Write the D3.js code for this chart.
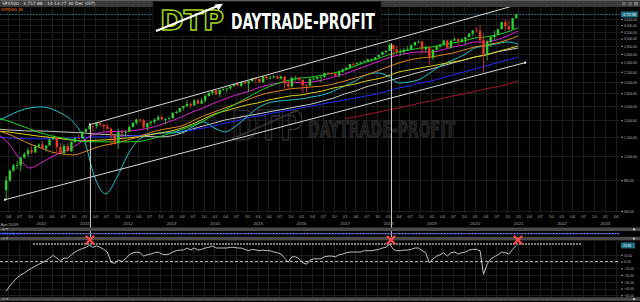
<!DOCTYPE html>
<html>
<head>
<meta charset="utf-8">
<script src="https://cdnjs.cloudflare.com/ajax/libs/d3/7.8.5/d3.min.js"></script>
<style>
  html, body { margin: 0; padding: 0; background: #000; overflow: hidden; }
  svg { display: block; }
  text { font-family: 'DejaVu Sans', sans-serif; }
</style>
</head>
<body>
<div id="chart"></div>
<script>
// SPX500 weekly chart, Apr 2009 - Dec 2020, with MAs, channel and % indicator

// monthly candles (Mar 2009 .. Dec 2020), open = previous close
const firstMonth = new Date(2009, 2, 1);
const firstOpen = 729.57;
const closes = [
  797.87, 872.81, 919.14, 919.32, 987.48, 1020.62, 1057.08, 1036.19, 1095.63, 1115.10,
  1073.87, 1104.49, 1169.43, 1186.69, 1089.41, 1030.71, 1101.60, 1049.33, 1141.20, 1183.26, 1180.55, 1257.64,
  1286.12, 1327.22, 1325.83, 1363.61, 1345.20, 1320.64, 1292.28, 1218.89, 1131.42, 1253.30, 1246.96, 1257.60,
  1312.41, 1365.68, 1408.47, 1397.91, 1310.33, 1362.16, 1379.32, 1406.58, 1440.67, 1412.16, 1416.18, 1426.19,
  1498.11, 1514.68, 1569.19, 1597.57, 1630.74, 1606.28, 1685.73, 1632.97, 1681.55, 1756.54, 1805.81, 1848.36,
  1782.59, 1859.45, 1872.34, 1883.95, 1923.57, 1960.23, 1930.67, 2003.37, 1972.29, 2018.05, 2067.56, 2058.90,
  1994.99, 2104.50, 2067.89, 2085.51, 2107.39, 2063.11, 2103.84, 1972.18, 1920.03, 2079.36, 2080.41, 2043.94,
  1940.24, 1932.23, 2059.74, 2065.30, 2096.95, 2098.86, 2173.60, 2170.95, 2168.27, 2126.15, 2198.81, 2238.83,
  2278.87, 2363.64, 2362.72, 2384.20, 2411.80, 2423.41, 2470.30, 2471.65, 2519.36, 2575.26, 2647.58, 2673.61,
  2823.81, 2713.83, 2640.87, 2648.05, 2705.27, 2718.37, 2816.29, 2901.52, 2913.98, 2711.74, 2760.17, 2506.85,
  2704.10, 2784.49, 2834.40, 2945.83, 2752.06, 2941.76, 2980.38, 2926.46, 2976.74, 3037.56, 3140.98, 3230.78,
  3225.52, 2954.22, 2584.59, 2912.43, 3044.31, 3100.29, 3271.12, 3500.31, 3363.00, 3269.96, 3621.63, 3757.88
];
const highs = [
  832.98, 888.70, 930.17, 956.23, 996.68, 1039.47, 1080.15, 1101.36, 1113.69, 1130.38,
  1150.45, 1112.42, 1180.16, 1219.80, 1200.26, 1131.23, 1120.95, 1129.24, 1148.90, 1196.14, 1227.08, 1262.60,
  1302.67, 1344.07, 1332.28, 1366.00, 1370.58, 1345.20, 1356.48, 1307.38, 1229.29, 1292.66, 1277.55, 1269.37,
  1333.47, 1378.04, 1419.15, 1422.38, 1415.32, 1363.46, 1391.74, 1426.68, 1474.51, 1470.96, 1434.27, 1448.00,
  1509.94, 1530.94, 1570.28, 1597.35, 1687.18, 1654.19, 1698.78, 1709.67, 1729.86, 1775.22, 1813.55, 1849.44,
  1850.84, 1867.92, 1883.97, 1897.28, 1924.03, 1968.17, 1991.39, 2005.04, 2019.26, 2018.19, 2075.76, 2093.55,
  2064.43, 2119.59, 2117.52, 2125.92, 2134.72, 2129.87, 2132.82, 2112.66, 2020.86, 2094.32, 2116.48, 2104.27,
  2038.20, 1962.96, 2072.21, 2111.05, 2103.48, 2120.55, 2177.09, 2193.81, 2187.87, 2169.60, 2214.10, 2277.53,
  2300.99, 2371.54, 2400.98, 2398.16, 2418.71, 2453.82, 2484.04, 2490.87, 2519.44, 2582.98, 2657.74, 2694.97,
  2872.87, 2835.96, 2801.90, 2717.49, 2742.24, 2791.47, 2848.03, 2916.50, 2940.91, 2939.86, 2815.15, 2800.18,
  2708.95, 2813.49, 2860.31, 2949.52, 2954.13, 2964.15, 3027.98, 3013.59, 3021.99, 3050.10, 3154.26, 3247.93,
  3337.77, 3393.52, 3136.72, 2954.86, 3068.67, 3233.13, 3279.99, 3514.77, 3588.11, 3549.85, 3645.99, 3760.20
];
const lows = [
  666.79, 783.32, 866.10, 888.86, 869.32, 978.51, 992.25, 1020.18, 1029.38, 1085.89,
  1071.59, 1044.50, 1105.24, 1170.69, 1040.78, 1028.33, 1010.91, 1039.70, 1041.29, 1131.87, 1173.00, 1186.60,
  1257.62, 1289.14, 1249.05, 1294.70, 1311.80, 1258.07, 1282.86, 1101.54, 1114.22, 1074.77, 1158.66, 1202.37,
  1258.86, 1312.41, 1340.03, 1357.38, 1291.98, 1266.74, 1325.41, 1354.65, 1396.56, 1403.28, 1343.35, 1398.11,
  1426.19, 1485.01, 1501.48, 1536.03, 1581.28, 1560.33, 1604.57, 1627.47, 1633.41, 1646.47, 1746.20, 1767.99,
  1770.45, 1737.92, 1834.44, 1814.36, 1859.79, 1915.98, 1930.67, 1904.78, 1964.04, 1820.66, 2001.01, 1972.56,
  1988.12, 1980.90, 2039.69, 2048.38, 2067.93, 2056.32, 2044.02, 1867.01, 1871.91, 1893.70, 2019.39, 1993.26,
  1812.29, 1810.10, 1937.09, 2033.80, 2025.91, 1991.68, 2074.02, 2147.58, 2119.12, 2114.72, 2083.79, 2187.44,
  2245.13, 2271.65, 2322.25, 2328.95, 2352.72, 2405.70, 2407.70, 2417.35, 2446.55, 2520.40, 2566.33, 2605.52,
  2682.36, 2532.69, 2585.89, 2553.80, 2594.62, 2691.99, 2698.95, 2802.49, 2864.12, 2603.54, 2631.09, 2346.58,
  2443.96, 2681.83, 2722.27, 2848.63, 2750.52, 2728.81, 2952.22, 2822.12, 2891.85, 2855.94, 3050.72, 3070.33,
  3214.64, 2855.84, 2191.86, 2447.49, 2766.64, 2965.66, 3101.17, 3284.53, 3209.45, 3233.94, 3279.74, 3633.40
];

// % distance indicator, same months
const indicator = [
  -44, -36, -30, -24, -20, -17, -13, -10, -7, -4,
  -1.5, 1.5, 5, 9, 5, 1, 5, 5, 10, 14, 17, 19,
  21, 24, 21, 23, 21, 18, 14, -1, -3, 2, 0, 4,
  10, 13, 14, 13, 8, 10, 11, 13, 14, 11, 10, 11,
  14, 16, 17, 17, 20, 17, 20, 17, 18, 20, 21, 23,
  20, 20, 20, 20, 21, 21, 20, 20, 18, 16, 18, 17,
  16, 17, 16, 16, 14, 13, 11, 5, -1, 7, 7, 4,
  -2, -4, 2, 4, 4, 4, 7, 8, 8, 7, 10, 11,
  13, 14, 14, 14, 14, 16, 16, 16, 17, 18, 20, 21,
  26, 18, 16, 16, 17, 17, 18, 20, 20, 16, 13, -2,
  4, 8, 10, 13, 8, 13, 14, 11, 13, 14, 17, 18,
  18, 16, -19, -4, 4, 7, 10, 14, 13, 11, 18, 23.84
];

// moving averages, read quarterly (Jan 2009 .. Oct 2020, then 30 Dec 2020)
const maGreen   = [1430,1390,1339,1290,1243,1209,1186,1165,1147,1144,1144,1144,1144,1147,1170,1201,1243,1284,1333,1390,1470,1540,1630,1723,1823,1910,1982,2038,2076,2095,2135,2175,2237,2322,2410,2478,2573,2646,2696,2746,2772,2825,2878,2932,3016,3044,3101,3188,3314];
const maMagenta = [1231,1132,984,896,939,993,1041,1090,1165,1231,1255,1261,1266,1278,1302,1339,1390,1443,1512,1570,1645,1707,1772,1823,1892,1945,1982,2000,1982,2000,2038,2095,2155,2237,2322,2410,2501,2573,2621,2646,2646,2696,2772,2825,2905,2905,2960,3072,3219];
const maOrange  = [1266,1231,1176,1121,1080,1041,1022,1012,1041,1080,1111,1132,1165,1198,1243,1278,1302,1327,1390,1457,1512,1570,1630,1691,1756,1806,1840,1875,1892,1910,1927,1963,2019,2076,2135,2216,2302,2388,2456,2501,2524,2573,2621,2696,2772,2825,2878,2960,3072];
const maYellow  = [1266,1255,1237,1220,1203,1192,1176,1160,1154,1160,1165,1176,1187,1198,1220,1243,1266,1302,1351,1416,1484,1526,1570,1614,1645,1691,1723,1756,1772,1806,1840,1892,1927,1963,2019,2057,2115,2196,2237,2280,2322,2366,2410,2456,2524,2573,2646,2721,2799];
const maBlue    = [1198,1187,1181,1176,1176,1176,1181,1187,1192,1198,1198,1203,1209,1214,1226,1237,1255,1266,1278,1302,1327,1364,1390,1429,1457,1484,1512,1540,1570,1600,1630,1660,1691,1723,1756,1789,1840,1892,1927,1982,2019,2076,2135,2196,2259,2322,2388,2456,2524];
const maGray    = [1290,1278,1272,1266,1266,1261,1255,1249,1243,1231,1226,1220,1214,1209,1203,1198,1209,1243,1290,1327,1364,1403,1429,1457,1484,1512,1540,1570,1600,1630,1675,1723,1789,1840,1910,1963,2019,2076,2135,2196,2259,2322,2388,2456,2524,2573,2646,2696,2746];
const maCyan    = [1390,1457,1526,1570,1585,1555,1484,1377,1165,817,704,817,1012,1165,1220,1243,1243,1255,1314,1377,1302,1255,1327,1443,1570,1645,1675,1691,1707,1740,1772,1840,1927,2019,2135,2175,2115,1982,2000,2057,2196,2344,2456,2573,2746,2799,2852,2905,2852];
const maRed     = Array(32).fill(null).concat([1416,1443,1477,1505,1540,1570,1606,1644,1675,1715,1756,1789,1831,1875,1910,1954,2019]);

// drawn annotations
const lowerChannel = [['2009-03-06', 666.79], ['2021-02-28', 2395]];
const upperChannel = [['2011-02-18', 1344.07], ['2021-03-25', 4230]];
const peakDates  = ['2011-02-18', '2018-01-26'];
const peakValues = [1344.07, 2872.87];
const crossDates = ['2011-02-18', '2018-01-26', '2020-12-30'];
const lastPrice = 3757.88;
const lastIndicator = 23.84;

const priceTicks = [600, 800, 1000, 1200, 1400, 1600, 1800, 2000, 2200, 2400, 2600, 2800, 3000, 3200, 3400, 3600];
const indTicks = [10, 0, -10, -20, -30, -40, -50];

const W = 640, H = 302;
const parse = d3.timeParse('%Y-%m-%d');
const CHAR_W = 1.62; // width per glyph of the tiny axis labels

const svg = d3.select('#chart').append('svg')
  .attr('width', W).attr('height', H)
  .style('background', '#000');

const x = d3.scaleTime()
  .domain([new Date(2009, 3, 1), new Date(2021, 0, 1)])
  .range([8.2, 518.2]);
const y = d3.scaleLog().domain([600, 3600]).range([211, 19]);
const yInd = d3.scaleLinear().domain([-50, 10]).range([295.25, 254.75]);

const months = closes.map((c, i) => d3.timeMonth.offset(firstMonth, i));
const mid = d => d3.timeDay.offset(d, 14);
const maDates = d3.timeMonth.every(3).range(new Date(2009, 0, 1), new Date(2021, 0, 1))
  .concat([new Date(2020, 11, 30)]);

const quarterTicks = d3.timeMonth.every(3).range(new Date(2009, 3, 1), new Date(2023, 4, 2));
const yearTicks = d3.timeYear.range(new Date(2010, 0, 1), new Date(2023, 0, 2));

const PANEL_R = 620;

function squeeze(sel) {
  sel.attr('textLength', function() { return this.textContent.length * CHAR_W; })
    .attr('lengthAdjust', 'spacingAndGlyphs');
}

// clip for main panel
const defs = svg.append('defs');
defs.append('clipPath').attr('id', 'mainClip')
  .append('rect').attr('x', 0).attr('y', 7).attr('width', PANEL_R).attr('height', 206);

// ---- grid
const grid = svg.append('g').attr('stroke', '#1d1d1d').attr('stroke-width', 1);
grid.selectAll('.vg').data(quarterTicks).join('line')
  .attr('x1', d => Math.round(x(d)) + 0.5).attr('x2', d => Math.round(x(d)) + 0.5)
  .attr('y1', 7).attr('y2', 213);
grid.selectAll('.vg2').data(quarterTicks).join('line')
  .attr('x1', d => Math.round(x(d)) + 0.5).attr('x2', d => Math.round(x(d)) + 0.5)
  .attr('y1', 242).attr('y2', 297);
grid.selectAll('.hg').data(priceTicks).join('line')
  .attr('x1', 0).attr('x2', PANEL_R)
  .attr('y1', d => Math.round(y(d)) + 0.5).attr('y2', d => Math.round(y(d)) + 0.5);
grid.selectAll('.hg2').data(indTicks).join('line')
  .attr('x1', 0).attr('x2', PANEL_R)
  .attr('y1', d => Math.round(yInd(d)) + 0.5).attr('y2', d => Math.round(yInd(d)) + 0.5);

// ---- watermark
const wm = svg.append('g');
wm.append('text')
  .attr('x', 231).attr('y', 140)
  .attr('font-size', 40).attr('font-weight', 'bold')
  .attr('textLength', 72).attr('lengthAdjust', 'spacingAndGlyphs')
  .attr('fill', 'none').attr('stroke', '#363636').attr('stroke-width', 1.2)
  .text('DTP');
wm.append('line')
  .attr('x1', 232).attr('y1', 139).attr('x2', 298).attr('y2', 110)
  .attr('stroke', '#363636').attr('stroke-width', 1.5);
wm.append('text')
  .attr('x', 308).attr('y', 137)
  .attr('font-size', 21).attr('font-weight', 'bold')
  .style('font-family', "'Liberation Sans Narrow', 'DejaVu Sans Condensed', sans-serif")
  .attr('textLength', 147).attr('lengthAdjust', 'spacingAndGlyphs')
  .attr('fill', '#1a1a1a').attr('stroke', '#444').attr('stroke-width', 0.6)
  .text('DAYTRADE-PROFIT');

// ---- main panel contents
const main = svg.append('g').attr('clip-path', 'url(#mainClip)');

// current price dashed line
main.append('line')
  .attr('x1', 0).attr('x2', PANEL_R)
  .attr('y1', y(lastPrice)).attr('y2', y(lastPrice))
  .attr('stroke', '#1f6f80').attr('stroke-width', 1)
  .attr('stroke-dasharray', '2,1');

const maLine = d3.line()
  .defined(d => d[1] != null)
  .x(d => x(d[0]))
  .y(d => y(d[1]))
  .curve(d3.curveMonotoneX);

const maSeries = [
  { vals: maRed,     color: '#a3182c' },
  { vals: maGray,    color: '#c9c9c9' },
  { vals: maBlue,    color: '#1e2cff' },
  { vals: maCyan,    color: '#22c3c9' },
  { vals: maYellow,  color: '#d9d21c' },
  { vals: maOrange,  color: '#e0871c' },
  { vals: maMagenta, color: '#e024d8' },
  { vals: maGreen,   color: '#1fd41f' },
];

main.selectAll('.ma').data(maSeries).join('path')
  .attr('class', 'ma')
  .attr('fill', 'none')
  .attr('stroke', d => d.color)
  .attr('stroke-width', 1)
  .attr('d', d => maLine(d.vals.map((v, i) => [maDates[i], v])));

// candles
const candles = months.map((m, i) => ({
  date: mid(m),
  open: i === 0 ? firstOpen : closes[i - 1],
  close: closes[i], high: highs[i], low: lows[i]
}));
const upCol = '#2fcf2f', downCol = '#ec3a1c';
const cg = main.append('g');
cg.selectAll('.wick').data(candles).join('line')
  .attr('x1', d => x(d.date)).attr('x2', d => x(d.date))
  .attr('y1', d => y(d.high)).attr('y2', d => y(d.low))
  .attr('stroke', d => d.close >= d.open ? upCol : downCol)
  .attr('stroke-width', 0.8);
cg.selectAll('.body').data(candles).join('rect')
  .attr('x', d => x(d.date) - 1.2)
  .attr('width', 2.4)
  .attr('y', d => y(Math.max(d.open, d.close)))
  .attr('height', d => Math.max(0.8, Math.abs(y(d.open) - y(d.close))))
  .attr('fill', d => d.close >= d.open ? upCol : downCol);

// channel lines
[lowerChannel, upperChannel].forEach(ch => {
  main.append('line')
    .attr('x1', x(parse(ch[0][0]))).attr('y1', y(ch[0][1]))
    .attr('x2', x(parse(ch[1][0]))).attr('y2', y(ch[1][1]))
    .attr('stroke', '#d8d8d8').attr('stroke-width', 1);
});
[lowerChannel[0], lowerChannel[1], upperChannel[0]].forEach(p => {
  main.append('rect')
    .attr('x', x(parse(p[0])) - 1).attr('y', y(p[1]) - 1)
    .attr('width', 2).attr('height', 2).attr('fill', '#fff');
});

// vertical markers from highs down to indicator X
peakDates.forEach((d, i) => {
  svg.append('line')
    .attr('x1', x(parse(d)) + 0.5).attr('x2', x(parse(d)) + 0.5)
    .attr('y1', y(peakValues[i])).attr('y2', 240)
    .attr('stroke', '#cfcfcf').attr('stroke-width', 1);
});

// ---- price axis
const yAxis = svg.append('g')
  .attr('transform', `translate(${PANEL_R + 1},0)`)
  .call(d3.axisRight(y).tickValues(priceTicks).tickFormat(d3.format(',.2f')).tickSize(2).tickPadding(1));
yAxis.select('.domain').remove();
yAxis.selectAll('line').attr('stroke', '#9a9a9a');
yAxis.selectAll('text').attr('fill', '#b8b8b8').attr('font-size', 4.4)
  .style('font-family', "'Liberation Sans', sans-serif").call(squeeze);

svg.append('rect').attr('x', 621).attr('y', y(lastPrice) - 3).attr('width', 17).attr('height', 6)
  .attr('fill', '#1b6d84');
svg.append('text').attr('x', 623).attr('y', y(lastPrice) + 1.6)
  .attr('font-size', 4.4).attr('fill', '#fff')
  .style('font-family', "'Liberation Sans', sans-serif")
  .text(d3.format(',.2f')(lastPrice)).call(squeeze);

// ---- time axis
const xAxis = svg.append('g')
  .attr('transform', 'translate(0,213)')
  .call(d3.axisBottom(x).tickValues(quarterTicks).tickFormat(d3.timeFormat('%m')).tickSize(0).tickPadding(2));
xAxis.select('.domain').remove();
xAxis.selectAll('text').attr('fill', '#a8a8a8').attr('font-size', 4.4)
  .style('font-family', "'Liberation Sans', sans-serif");

const yearAxis = svg.append('g')
  .attr('transform', 'translate(0,220.5)')
  .call(d3.axisBottom(x).tickValues(yearTicks).tickFormat(d3.timeFormat('%Y')).tickSize(0).tickPadding(1));
yearAxis.select('.domain').remove();
yearAxis.selectAll('text').attr('fill', '#a8a8a8').attr('font-size', 4.4)
  .style('font-family', "'Liberation Sans', sans-serif");
svg.append('text').attr('x', 0.5).attr('y', 226).attr('font-size', 4.4).attr('fill', '#a8a8a8')
  .style('font-family', "'Liberation Sans', sans-serif")
  .text('Apr/2009');

// ---- separator bars
function bar(yTop) {
  svg.append('rect').attr('x', 0).attr('y', yTop).attr('width', W).attr('height', 3.6).attr('fill', '#4a4a4a');
  svg.append('rect').attr('x', 633).attr('y', yTop + 0.9).attr('width', 2).attr('height', 1.8).attr('fill', '#cfcfcf');
  svg.append('path').attr('d', `M2,${yTop + 2.5} l1.5,-1.8 l1.5,1.8 Z M5.5,${yTop + 0.8} l1.5,1.8 l1.5,-1.8 Z`)
    .attr('fill', '#9a9a9a');
}
bar(227.5);
bar(236.8);
bar(297.3);

// blue dotted row between the bars
svg.append('line').attr('x1', 0).attr('x2', PANEL_R).attr('y1', 233.6).attr('y2', 233.6)
  .attr('stroke', '#9a9a9a').attr('stroke-width', 1.1).attr('stroke-dasharray', '1.4,1.4')
  .attr('stroke-dashoffset', 1.4);
svg.append('line').attr('x1', 0).attr('x2', PANEL_R).attr('y1', 233.6).attr('y2', 233.6)
  .attr('stroke', '#2f47e0').attr('stroke-width', 1.1).attr('stroke-dasharray', '1.4,1.4');
svg.append('text').attr('x', 0.5).attr('y', 234.8).attr('font-size', 3.8).attr('fill', '#3b5bff')
  .text('SPX500_W %');

// ---- indicator panel
svg.append('line').attr('x1', 33).attr('x2', 581).attr('y1', 244).attr('y2', 244)
  .attr('stroke', '#a8a8a8').attr('stroke-width', 1.6).attr('stroke-dasharray', '2,1');
svg.append('line').attr('x1', 0).attr('x2', PANEL_R).attr('y1', yInd(0)).attr('y2', yInd(0))
  .attr('stroke', '#dcdcdc').attr('stroke-width', 0.8).attr('stroke-dasharray', '3,2');

const indLine = d3.line().x((d, i) => x(mid(months[i]))).y(d => yInd(d));
svg.append('path')
  .attr('fill', 'none').attr('stroke', '#d6d6d6').attr('stroke-width', 0.9)
  .attr('d', indLine(indicator));

const iAxis = svg.append('g')
  .attr('transform', `translate(${PANEL_R + 1},0)`)
  .call(d3.axisRight(yInd).tickValues(indTicks).tickFormat(d3.format('.2f')).tickSize(2).tickPadding(1));
iAxis.select('.domain').remove();
iAxis.selectAll('line').attr('stroke', '#9a9a9a');
iAxis.selectAll('text').attr('fill', '#b8b8b8').attr('font-size', 4.4)
  .style('font-family', "'Liberation Sans', sans-serif").call(squeeze);
svg.append('rect').attr('x', 621).attr('y', yInd(lastIndicator) - 3).attr('width', 14).attr('height', 6)
  .attr('fill', '#1b6d84');
svg.append('text').attr('x', 623).attr('y', yInd(lastIndicator) + 1.6)
  .attr('font-size', 4.4).attr('fill', '#fff')
  .style('font-family', "'Liberation Sans', sans-serif")
  .text(d3.format('.2f')(lastIndicator)).call(squeeze);

// red crosses
crossDates.forEach(d => {
  const cx = x(parse(d)), cy = 240;
  svg.append('path')
    .attr('d', `M${cx - 3.5},${cy - 3.5} L${cx + 3.5},${cy + 3.5} M${cx + 3.5},${cy - 3.5} L${cx - 3.5},${cy + 3.5}`)
    .attr('stroke', '#ff4a4a').attr('stroke-width', 2.4).attr('stroke-linecap', 'round');
});

// ---- header strip
svg.append('rect').attr('x', 0).attr('y', 0).attr('width', W).attr('height', 7).attr('fill', '#3a3a3a');
svg.append('rect').attr('x', 0).attr('y', 0).attr('width', W).attr('height', 1).attr('fill', '#5e5e5e');
svg.append('text').attr('x', 2).attr('y', 5.4).attr('font-size', 4.4).attr('fill', '#e6e6e6')
  .text('SPX500 : 3,757.88 : 14:13:27 30 Dec (IST)');
svg.append('text').attr('x', 0.5).attr('y', 10.6).attr('font-size', 4.2).attr('fill', '#ff7a1a')
  .text('SPX500_W');
[622, 628, 634].forEach((px, i) => {
  svg.append('rect').attr('x', px).attr('y', 2).attr('width', 4).attr('height', 3.5)
    .attr('fill', i === 2 ? '#777' : '#666');
});

// ---- logo
const logo = svg.append('g');
logo.append('rect').attr('x', 153).attr('y', 1.5).attr('width', 228).attr('height', 35)
  .attr('fill', '#000').attr('stroke', '#1a1a1a');
logo.append('text')
  .attr('x', 160).attr('y', 30)
  .attr('font-size', 27).attr('font-weight', 'bold')
  .attr('textLength', 64).attr('lengthAdjust', 'spacingAndGlyphs')
  .attr('fill', 'none').attr('stroke', '#9bd31a').attr('stroke-width', 1.5)
  .text('DTP');
logo.append('line').attr('x1', 156).attr('y1', 31).attr('x2', 219).attr('y2', 5.5)
  .attr('stroke', '#fff').attr('stroke-width', 2);
logo.append('path').attr('d', 'M223,3.8 L214.5,4.6 L218.6,10.3 Z').attr('fill', '#fff');
logo.append('text')
  .attr('x', 231).attr('y', 28.5)
  .attr('font-size', 22).attr('font-weight', 'bold')
  .style('font-family', "'Liberation Sans Narrow', 'DejaVu Sans Condensed', sans-serif")
  .attr('textLength', 144).attr('lengthAdjust', 'spacingAndGlyphs')
  .attr('fill', '#fff')
  .text('DAYTRADE-PROFIT');
</script>
</body>
</html>
